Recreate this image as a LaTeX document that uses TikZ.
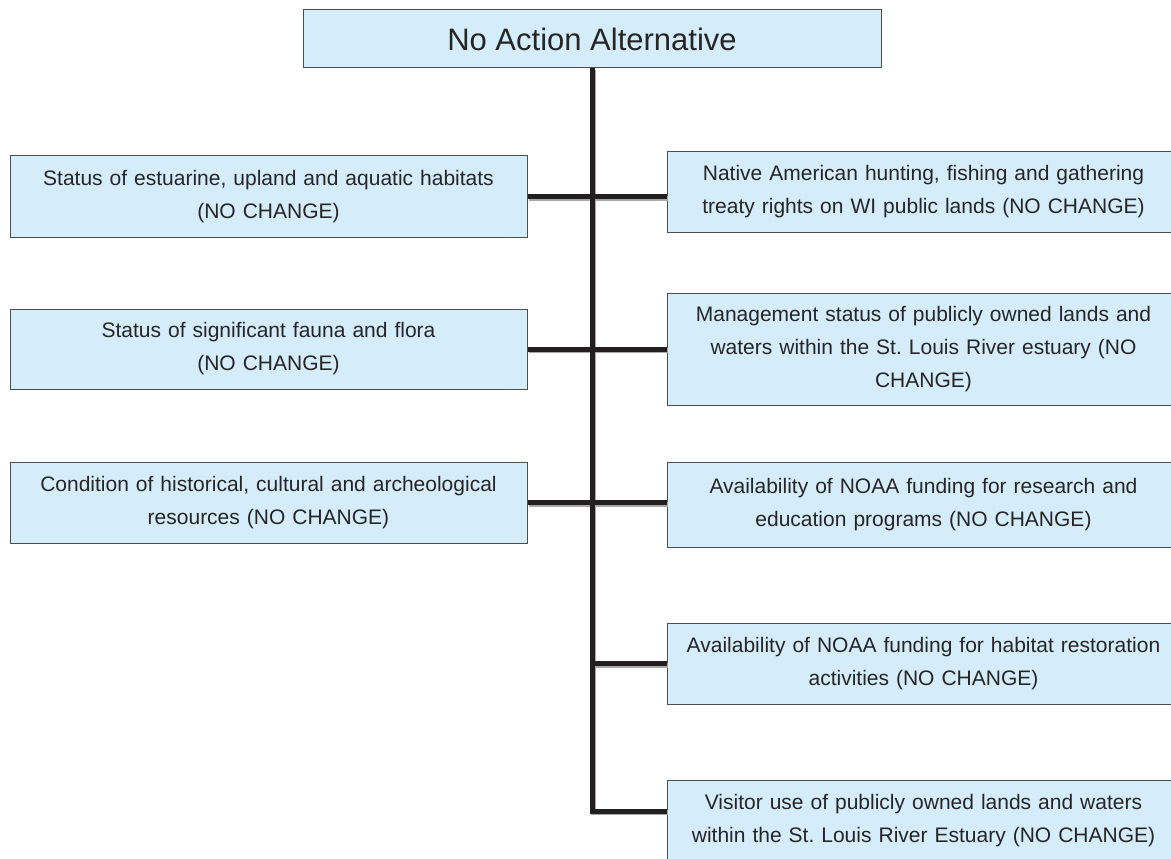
\documentclass[tikz,border=0pt]{standalone}
\usepackage{fontspec}
\setmainfont{Liberation Sans}
\frenchspacing
\usetikzlibrary{calc}
\definecolor{boxfill}{HTML}{D5ECFA}
\definecolor{boxline}{HTML}{4D4D4D}
\definecolor{linkdark}{HTML}{231F20}
\definecolor{linkshade}{HTML}{A8A8A8}

\begin{document}
\begin{tikzpicture}[
    x=1pt, y=-1pt,
    item/.style={draw=boxline, fill=boxfill, line width=1pt, align=center,
        inner sep=0pt, font=\fontsize{21}{33}\selectfont, text=black!85},
    leftbox/.style={item, minimum width=517pt, text width=510pt},
    rightbox/.style={item, minimum width=513pt, text width=506pt},
    link/.style={line width=5pt, draw=linkdark},
    shadelink/.style={line width=5pt, draw=linkshade, transform canvas={shift={(1.5pt,-1.5pt)}}}
]

% 1. Page frame
\useasboundingbox[fill=white] (0,0) rectangle (1171,859);

% 2. Title box
\node[item, minimum width=578pt, minimum height=58pt, font=\fontsize{31}{36}\selectfont] (title) at (592,39) {No Action Alternative};

% 3. Left column
\node[leftbox, minimum height=82pt] (left1) at (268.5,196.5) {Status of estuarine, upland and aquatic habitats\\(NO CHANGE)};
\node[leftbox, minimum height=80pt] (left2) at (268.5,349) {Status of significant fauna and flora\\(NO CHANGE)};
\node[leftbox, minimum height=81pt] (left3) at (268.5,502.5) {Condition of historical, cultural and archeological\\resources (NO CHANGE)};

% 4. Right column (runs past the page edge)
\node[rightbox, minimum height=81pt] (right1) at (923.5,191.5) {Native American hunting, fishing and gathering\\treaty rights on WI public lands (NO CHANGE)};
\node[rightbox, minimum height=112pt] (right2) at (923.5,349) {Management status of publicly owned lands and\\waters within the St. Louis River estuary (NO\\CHANGE)};
\node[rightbox, minimum height=85pt] (right3) at (923.5,504.5) {Availability of NOAA funding for research and\\education programs (NO CHANGE)};
\node[rightbox, minimum height=81pt] (right4) at (923.5,663.5) {Availability of NOAA funding for habitat restoration\\activities (NO CHANGE)};
\node[rightbox, minimum height=82pt] (right5) at (923.5,821) {Visitor use of publicly owned lands and waters\\within the St. Louis River Estuary (NO CHANGE)};

% 5. Trunk and branches (soft shadow first, then the lines)
\coordinate (lastbranch) at ($(right5.west)+(0,-10)$);
\foreach \look in {shadelink, link} {
    \begin{scope}[\look]
        \draw (title.south) |- (lastbranch);
        \draw (left1.east) -- (left1.east -| right1.west);
        \draw (left2.east) -- (left2.east -| right2.west);
        \draw (left3.east) -- (left3.east -| right3.west);
        \draw (right4.west) -- (right4.west -| title.south);
    \end{scope}
}

\end{tikzpicture}
\end{document}
